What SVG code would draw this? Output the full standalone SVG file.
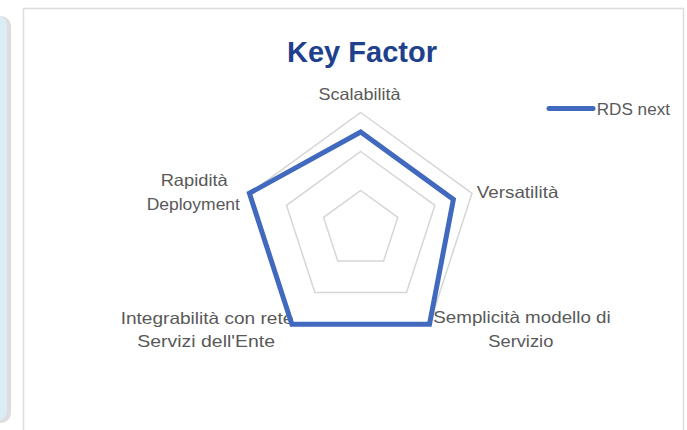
<svg xmlns="http://www.w3.org/2000/svg" width="687" height="430" viewBox="0 0 687 430">
  <style>
    .lbl { font-family: "Liberation Sans", Arial, sans-serif; font-size: 16.5px; fill: #595959; }
    .title { font-family: "Liberation Sans", Arial, sans-serif; font-size: 29px; font-weight: bold; fill: #203f8c; }
    .ring { fill: none; stroke: #d6d6d6; stroke-width: 1.5; stroke-linejoin: miter; }
    .series { fill: none; stroke: #4169bd; stroke-width: 5; stroke-linejoin: miter; }
  </style>
  <rect x="0" y="0" width="687" height="430" fill="#ffffff"/>

  <g id="side-panel">
    <rect x="-18" y="16" width="29" height="407" rx="10" fill="#cfcfcf" opacity="0.7"/>
    <rect x="-20" y="15" width="27" height="406" rx="10" fill="#daedf4"/>
  </g>

  <g id="chart-frame">
    <rect x="23.5" y="8.5" width="660" height="440" fill="#ffffff" stroke="#dcdcdc" stroke-width="1.5"/>
  </g>

  <g id="title">
    <text class="title" x="362" y="62" text-anchor="middle">Key Factor</text>
  </g>

  <g id="grid">
    <polygon class="ring" points="360.7,112.5 472.0,193.3 429.5,324.2 291.9,324.2 249.4,193.3"/>
    <polygon class="ring" points="360.7,151.5 434.9,205.4 406.5,292.6 314.9,292.6 286.5,205.4"/>
    <polygon class="ring" points="360.7,190.5 397.8,217.4 383.6,261.1 337.8,261.1 323.6,217.4"/>
  </g>

  <g id="axis-labels">
    <text class="lbl" x="359.5" y="100" text-anchor="middle" textLength="82" lengthAdjust="spacingAndGlyphs">Scalabilità</text>
    <text class="lbl" x="476.7" y="198" textLength="81.7" lengthAdjust="spacingAndGlyphs">Versatilità</text>
    <text class="lbl" x="194.2" y="186" text-anchor="middle" textLength="67" lengthAdjust="spacingAndGlyphs">Rapidità</text>
    <text class="lbl" x="193.3" y="210" text-anchor="middle" textLength="93.3" lengthAdjust="spacingAndGlyphs">Deployment</text>
    <text class="lbl" x="120.7" y="323.5" textLength="172.6" lengthAdjust="spacingAndGlyphs">Integrabilità con rete</text>
    <text class="lbl" x="137.3" y="347" textLength="137.7" lengthAdjust="spacingAndGlyphs">Servizi dell'Ente</text>
    <text class="lbl" x="433.3" y="323" textLength="177.4" lengthAdjust="spacingAndGlyphs">Semplicità modello di</text>
    <text class="lbl" x="488.3" y="347" textLength="65" lengthAdjust="spacingAndGlyphs">Servizio</text>
  </g>

  <g id="series-rds-next">
    <polygon class="series" points="360.7,132.0 453.4,199.4 429.5,324.2 291.9,324.2 249.4,193.3"/>
  </g>

  <g id="legend">
    <line x1="549" y1="108.5" x2="593" y2="108.5" stroke="#4169bd" stroke-width="5" stroke-linecap="round"/>
    <text class="lbl" x="596.7" y="115" textLength="73.3" lengthAdjust="spacingAndGlyphs">RDS next</text>
  </g>
</svg>
